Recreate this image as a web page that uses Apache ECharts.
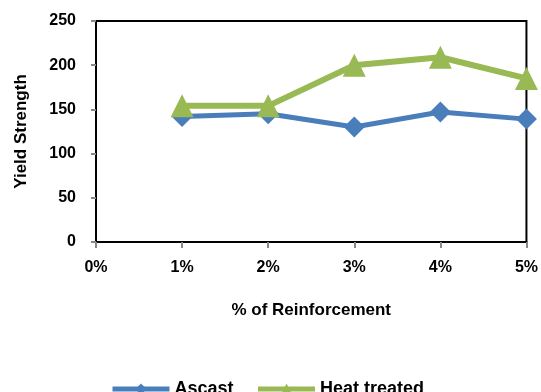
<!DOCTYPE html>
<html>
<head>
<meta charset="utf-8">
<script src="https://cdn.jsdelivr.net/npm/echarts@6/dist/echarts.min.js"></script>
<style>
  html, body { margin: 0; padding: 0; background: #fff; }
  #chart { width: 541px; height: 392px; }
</style>
</head>
<body>
<div id="chart"></div>
<script>
// Reinforcement content (%) and measured yield strength
const reinforcement = [1, 2, 3, 4, 5];
const ascast = [142, 145, 130, 147, 139];
const heatTreated = [154, 154, 200, 209, 185];
const yTicks = [0, 50, 100, 150, 200, 250];

const FONT = 'Liberation Sans';

const chart = echarts.init(document.getElementById('chart'));

const pairs = (vals) => reinforcement.map((x, i) => [x, vals[i]]);

chart.setOption({
  animation: false,
  grid: { left: 96, right: 14, top: 21, bottom: 150, show: true, borderColor: '#000', borderWidth: 2 },
  xAxis: {
    type: 'value', min: 0, max: 5, interval: 1,
    name: '% of Reinforcement', nameLocation: 'middle', nameGap: 60,
    nameTextStyle: { fontFamily: FONT, fontWeight: 'bold', fontSize: 17, color: '#000' },
    axisLine: { lineStyle: { color: '#000', width: 2 } },
    axisTick: { show: true, length: 6, lineStyle: { color: '#888', width: 2 } },
    axisLabel: { formatter: '{value}%', fontFamily: FONT, fontWeight: 'bold', fontSize: 16, color: '#000', margin: 18 },
    splitLine: { show: false }
  },
  yAxis: {
    type: 'value', min: yTicks[0], max: yTicks[yTicks.length - 1], interval: 50,
    name: 'Yield Strength', nameLocation: 'middle', nameGap: 66, nameRotate: 90,
    nameTextStyle: { fontFamily: FONT, fontWeight: 'bold', fontSize: 17, color: '#000' },
    axisLine: { show: true, lineStyle: { color: '#000', width: 2 } },
    axisTick: { show: true, length: 5, lineStyle: { color: '#888', width: 2 } },
    axisLabel: { fontFamily: FONT, fontWeight: 'bold', fontSize: 16, color: '#000', margin: 20 },
    splitLine: { show: false }
  },
  legend: {
    top: 380, left: 110, padding: 0, itemGap: 22, itemWidth: 57, itemHeight: 14,
    lineStyle: { width: 5 },
    textStyle: { fontFamily: FONT, fontWeight: 'bold', fontSize: 18, color: '#000' },
    data: ['Ascast', 'Heat treated']
  },
  series: [
    {
      name: 'Ascast', type: 'line', data: pairs(ascast),
      symbol: 'diamond', symbolSize: 21,
      lineStyle: { color: '#4a7ebb', width: 5 },
      itemStyle: { color: '#4a7ebb' }
    },
    {
      name: 'Heat treated', type: 'line', data: pairs(heatTreated),
      symbol: 'triangle', symbolSize: 23,
      lineStyle: { color: '#98b954', width: 6 },
      itemStyle: { color: '#98b954' }
    }
  ]
});
</script>
</body>
</html>
